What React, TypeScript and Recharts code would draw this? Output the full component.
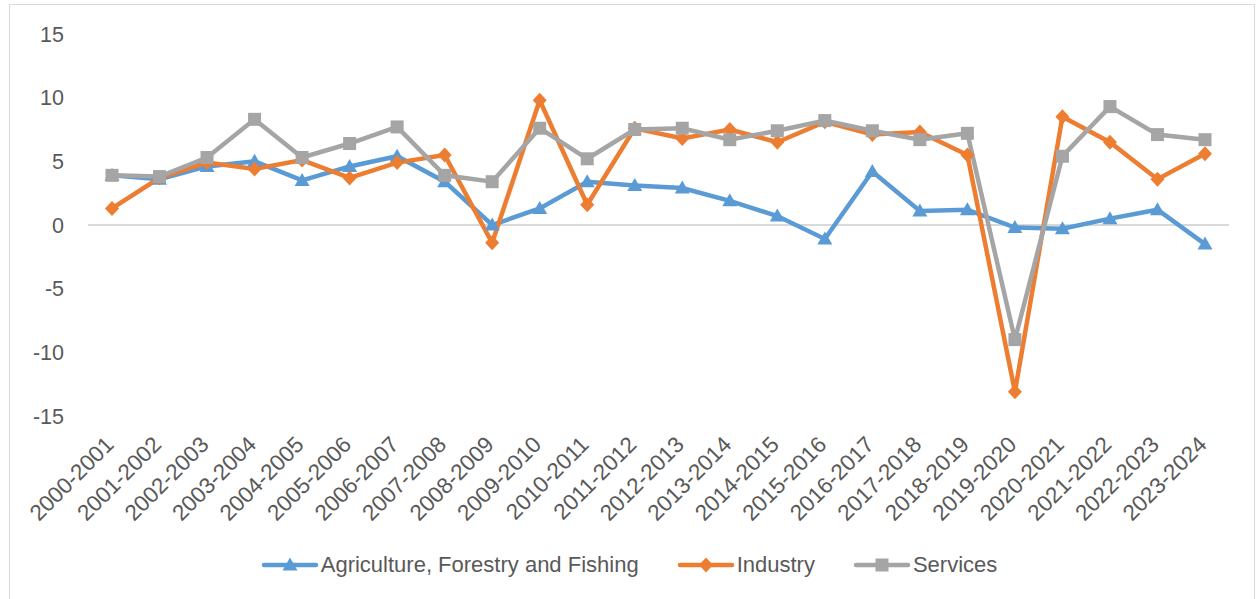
import React from 'react';
import { LineChart, Line, XAxis, YAxis, CartesianGrid, Legend } from 'recharts';

const categories = [
  '2000-2001', '2001-2002', '2002-2003', '2003-2004', '2004-2005', '2005-2006',
  '2006-2007', '2007-2008', '2008-2009', '2009-2010', '2010-2011', '2011-2012',
  '2012-2013', '2013-2014', '2014-2015', '2015-2016', '2016-2017', '2017-2018',
  '2018-2019', '2019-2020', '2020-2021', '2021-2022', '2022-2023', '2023-2024',
];
const agriculture = [3.9, 3.6, 4.6, 5.0, 3.5, 4.6, 5.4, 3.4, 0.0, 1.3, 3.4, 3.1, 2.9, 1.9, 0.7, -1.1, 4.2, 1.1, 1.2, -0.2, -0.3, 0.5, 1.2, -1.5];
const industry = [1.3, 3.7, 4.9, 4.4, 5.1, 3.7, 4.9, 5.5, -1.4, 9.8, 1.6, 7.6, 6.8, 7.5, 6.5, 8.1, 7.1, 7.3, 5.5, -13.1, 8.5, 6.5, 3.6, 5.6];
const services = [3.9, 3.8, 5.3, 8.3, 5.3, 6.4, 7.7, 3.9, 3.4, 7.6, 5.2, 7.5, 7.6, 6.7, 7.4, 8.2, 7.4, 6.7, 7.2, -9.0, 5.4, 9.3, 7.1, 6.7];
const yTicks = [-15, -10, -5, 0, 5, 10, 15];

const BLUE = '#5B9BD5';
const ORANGE = '#ED7D31';
const GREY = '#A5A5A5';
const TEXT = '#595959';
const FONT = '"Liberation Sans", Arial, sans-serif';

const data = categories.map((name, i) => ({
  name,
  agriculture: agriculture[i],
  industry: industry[i],
  services: services[i],
}));

const triangle = (cx: number, cy: number, color: string, key?: any) => (
  <path key={key} d={`M${cx},${cy - 7.5} L${cx + 7.5},${cy + 5.5} L${cx - 7.5},${cy + 5.5} Z`} fill={color} />
);
const diamond = (cx: number, cy: number, color: string, key?: any) => (
  <path key={key} d={`M${cx},${cy - 7.5} L${cx + 7},${cy} L${cx},${cy + 7.5} L${cx - 7},${cy} Z`} fill={color} />
);
const square = (cx: number, cy: number, color: string, key?: any) => (
  <rect key={key} x={cx - 6.5} y={cy - 6.5} width={13} height={13} fill={color} />
);

const XTick = ({ x, y, payload }: any) => (
  <g transform={`translate(${x + 3},${y})`}>
    <text textAnchor="end" transform="rotate(-45)" fill={TEXT} fontSize={22.5} fontFamily={FONT}>
      {payload.value}
    </text>
  </g>
);

const YTick = ({ x, y, payload }: any) => (
  <text x={x} y={y} dy={7.5} textAnchor="end" fill={TEXT} fontSize={21.5} fontFamily={FONT}>
    {payload.value}
  </text>
);

const legendItems = [
  { label: 'Agriculture, Forestry and Fishing', color: BLUE, marker: triangle },
  { label: 'Industry', color: ORANGE, marker: diamond },
  { label: 'Services', color: GREY, marker: square },
];

const renderLegend = () => (
  <div style={{ display: 'flex', justifyContent: 'center', alignItems: 'center', gap: 38, fontFamily: FONT }}>
    {legendItems.map((it) => (
      <div key={it.label} style={{ display: 'flex', alignItems: 'center' }}>
        <svg width={58} height={20}>
          <line x1={3} y1={10} x2={55} y2={10} stroke={it.color} strokeWidth={4.5} strokeLinecap="round" />
          {it.marker(29, 10, it.color)}
        </svg>
        <span style={{ color: TEXT, fontSize: 22, marginLeft: 2 }}>{it.label}</span>
      </div>
    ))}
  </div>
);

export default function App() {
  return (
    <div style={{ position: 'absolute', left: 0, top: 0, width: 1258, height: 599, overflow: 'hidden', background: '#fff' }}>
      <div style={{ position: 'absolute', left: 9, top: 4, width: 1244, height: 640, border: '1.5px solid #D9D9D9' }} />
      <div style={{ position: 'absolute', left: 0, top: 0 }}>
        <LineChart width={1258} height={599} data={data} margin={{ top: 34, right: 29, bottom: 0, left: 28 }}>
          <CartesianGrid horizontalValues={[0]} vertical={false} stroke="#D9D9D9" strokeWidth={2} />
          <XAxis
            dataKey="name"
            height={183}
            padding={{ left: 24, right: 24 }}
            axisLine={false}
            tickLine={false}
            tickSize={0}
            tickMargin={30}
            interval={0}
            tick={<XTick />}
          />
          <YAxis
            width={60}
            domain={[-15, 15]}
            ticks={yTicks}
            axisLine={false}
            tickLine={false}
            tickSize={0}
            tickMargin={24}
            tick={<YTick />}
          />
          <Legend verticalAlign="middle" align="center" content={renderLegend} wrapperStyle={{ top: 552, left: 0, width: 1258 }} />
          <Line
            type="linear"
            dataKey="agriculture"
            name="Agriculture, Forestry and Fishing"
            stroke={BLUE}
            strokeWidth={4.5}
            dot={(p: any) => triangle(p.cx, p.cy, BLUE, p.key)}
            activeDot={false}
            isAnimationActive={false}
          />
          <Line
            type="linear"
            dataKey="industry"
            name="Industry"
            stroke={ORANGE}
            strokeWidth={4.5}
            dot={(p: any) => diamond(p.cx, p.cy, ORANGE, p.key)}
            activeDot={false}
            isAnimationActive={false}
          />
          <Line
            type="linear"
            dataKey="services"
            name="Services"
            stroke={GREY}
            strokeWidth={4.5}
            dot={(p: any) => square(p.cx, p.cy, GREY, p.key)}
            activeDot={false}
            isAnimationActive={false}
          />
        </LineChart>
      </div>
    </div>
  );
}
